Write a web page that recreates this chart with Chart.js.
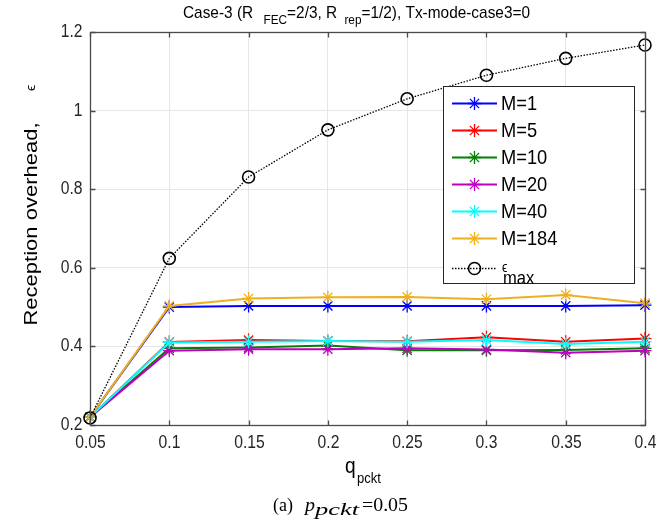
<!DOCTYPE html>
<html>
<head>
<meta charset="utf-8">
<script src="https://cdn.jsdelivr.net/npm/chart.js@4"></script>
<style>
  body { margin: 0; background: #fff; }
</style>
</head>
<body>
<canvas id="chart-overhead" width="657" height="531"></canvas>
<script>
// data
const qPckt = [0.05, 0.1, 0.15, 0.2, 0.25, 0.3, 0.35, 0.4];
const overheadM1   = [0.22, 0.500, 0.503, 0.503, 0.503, 0.503, 0.503, 0.505];
const overheadM5   = [0.22, 0.411, 0.416, 0.414, 0.413, 0.423, 0.412, 0.420];
const overheadM10  = [0.22, 0.395, 0.397, 0.402, 0.390, 0.390, 0.391, 0.395];
const overheadM20  = [0.22, 0.389, 0.393, 0.393, 0.395, 0.392, 0.384, 0.389];
const overheadM40  = [0.22, 0.410, 0.412, 0.414, 0.412, 0.416, 0.406, 0.412];
const overheadM184 = [0.22, 0.503, 0.522, 0.525, 0.526, 0.520, 0.531, 0.510];
const epsMax       = [0.218, 0.624, 0.831, 0.951, 1.030, 1.090, 1.133, 1.167];

const xTickLabels = ["0.05", "0.1", "0.15", "0.2", "0.25", "0.3", "0.35", "0.4"];
const yTickLabels = ["0.2", "0.4", "0.6", "0.8", "1", "1.2"];
const seriesLabels = ["M=1", "M=5", "M=10", "M=20", "M=40", "M=184"];
const seriesColors = ["#0000ff", "#ff0000", "#008000", "#bf00bf", "#00ffff", "#edb120"];
const seriesValues = [overheadM1, overheadM5, overheadM10, overheadM20, overheadM40, overheadM184];

const SQ = 0.87; // figure text looks horizontally squeezed
const SANS = '"Liberation Sans", Arial, sans-serif';
const SERIF = '"Liberation Serif", "Times New Roman", serif';

const toPoints = (vals) => vals.map((v, i) => ({ x: qPckt[i], y: v }));

function drawSq(ctx, text, x, y, font, align, s) {
    ctx.save();
    ctx.font = font;
    ctx.textAlign = align || 'left';
    ctx.translate(x, y);
    ctx.scale(s === undefined ? SQ : s, 1);
    ctx.fillText(text, 0, 0);
    ctx.restore();
}

function widthSq(ctx, text, font, s) {
    ctx.save();
    ctx.font = font;
    const w = ctx.measureText(text).width * (s === undefined ? SQ : s);
    ctx.restore();
    return w;
}

// draw text stretched to a given width (used for the LaTeX-like caption)
function drawFit(ctx, text, x, y, font, width) {
    drawSq(ctx, text, x, y, font, 'left', width / widthSq(ctx, text, font, 1));
}

function drawMarker(ctx, style, x, y, r, color, lw) {
    ctx.save();
    ctx.strokeStyle = color;
    ctx.lineWidth = lw;
    ctx.beginPath();
    if (style === 'circle') {
        ctx.arc(x, y, r, 0, Math.PI * 2);
    } else {
        for (let k = 0; k < 4; k++) {
            const a = k * Math.PI / 4;
            ctx.moveTo(x - Math.cos(a) * r, y - Math.sin(a) * r);
            ctx.lineTo(x + Math.cos(a) * r, y + Math.sin(a) * r);
        }
    }
    ctx.stroke();
    ctx.restore();
}

const datasets = seriesValues.map((vals, i) => ({
    label: seriesLabels[i],
    data: toPoints(vals),
    borderColor: seriesColors[i],
    backgroundColor: seriesColors[i],
    borderWidth: 2,
    pointStyle: 'star',
    pointRadius: 6.5,
    pointBorderWidth: 1.3,
    pointBorderColor: seriesColors[i],
    order: seriesValues.length - i,
    clip: false,
}));
datasets.push({
    label: "emax",
    data: toPoints(epsMax),
    borderColor: "#000000",
    backgroundColor: "rgba(0,0,0,0)",
    borderWidth: 1.3,
    borderDash: [1.5, 1.5],
    pointStyle: 'circle',
    pointRadius: 6,
    pointBorderWidth: 1.6,
    pointBorderColor: "#000000",
    pointBackgroundColor: "rgba(0,0,0,0)",
    order: 0,
    clip: false,
});

// box, inward ticks, tick labels, titles, legend
const overheadDecor = {
    id: 'overheadDecor',
    afterDraw(chart) {
        const { ctx, chartArea: a, scales: { x, y } } = chart;
        const L = Math.round(a.left) + 0.5, R = Math.round(a.right) + 0.5;
        const T = Math.round(a.top) + 0.5, B = Math.round(a.bottom) + 0.5;
        ctx.save();
        ctx.strokeStyle = '#4a4a4a';
        ctx.lineWidth = 1.3;
        ctx.strokeRect(L, T, R - L, B - T);

        ctx.fillStyle = '#262626';
        ctx.textBaseline = 'middle';
        const tickFont = '18px ' + SANS;
        ctx.beginPath();
        xTickLabels.forEach(lbl => {
            const px = Math.round(x.getPixelForValue(parseFloat(lbl))) + 0.5;
            ctx.moveTo(px, B); ctx.lineTo(px, B - 5);
            ctx.moveTo(px, T); ctx.lineTo(px, T + 5);
            drawSq(ctx, lbl, px, 443, tickFont, 'center');
        });
        yTickLabels.forEach(lbl => {
            const py = Math.round(y.getPixelForValue(parseFloat(lbl))) + 0.5;
            ctx.moveTo(L, py); ctx.lineTo(L + 5, py);
            ctx.moveTo(R, py); ctx.lineTo(R - 5, py);
            drawSq(ctx, lbl, L - 8, py, tickFont, 'right');
        });
        ctx.stroke();

        // title with subscripts
        ctx.fillStyle = '#000';
        ctx.textBaseline = 'alphabetic';
        const tMain = '17px ' + SANS, tSub = '13px ' + SANS;
        const parts = [
            ["Case-3 (R", tMain, 0, 10],
            ["FEC", tSub, 6, 0],
            ["=2/3, R", tMain, 0, 7],
            ["rep", tSub, 6, 0],
            ["=1/2), Tx-mode-case3=0", tMain, 0, 0],
        ];
        let total = 0;
        parts.forEach(p => { total += widthSq(ctx, p[0], p[1]) + p[3]; });
        const tScale = 347 / total;
        let tx = 183;
        parts.forEach(p => {
            drawSq(ctx, p[0], tx, 18 + p[2], p[1], 'left', SQ * tScale);
            tx += (widthSq(ctx, p[0], p[1]) + p[3]) * tScale;
        });

        // y axis title (rotated)
        ctx.save();
        ctx.translate(37, 224);
        ctx.rotate(-Math.PI / 2);
        ctx.scale(1, SQ);
        ctx.font = '22px ' + SANS;
        ctx.textAlign = 'center';
        ctx.fillText("Reception overhead,", 0, 0);
        ctx.restore();
        ctx.save();
        ctx.translate(35, 88);
        ctx.rotate(-Math.PI / 2);
        ctx.scale(1, SQ);
        ctx.font = '14px ' + SANS;
        ctx.textAlign = 'center';
        ctx.fillText("\u03f5", 0, 0);
        ctx.restore();

        // x axis title
        drawSq(ctx, "q", 345, 473, '22px ' + SANS, 'left');
        drawSq(ctx, "pckt", 357, 483, '15px ' + SANS, 'left');

        // caption
        ctx.fillStyle = '#000';
        drawFit(ctx, "(a)", 273, 511, '18px ' + SERIF, 20);
        drawFit(ctx, "p", 305, 511, 'italic 19px ' + SERIF, 10);
        drawFit(ctx, "pckt", 315, 515, 'italic 17px ' + SERIF, 44);
        drawFit(ctx, "=0.05", 362, 511, '18px ' + SERIF, 46);

        // legend
        const lx0 = 443.5, ly0 = 86.5, lx1 = 634.5, ly1 = 283.5;
        ctx.fillStyle = '#fff';
        ctx.fillRect(lx0, ly0, lx1 - lx0, ly1 - ly0);
        ctx.strokeStyle = '#262626';
        ctx.lineWidth = 1;
        ctx.strokeRect(lx0, ly0, lx1 - lx0, ly1 - ly0);
        chart.data.datasets.forEach((ds, i) => {
            const rowY = i < seriesLabels.length ? 103.5 + i * 27 : 268.5;
            ctx.save();
            ctx.strokeStyle = ds.borderColor;
            ctx.lineWidth = ds.borderWidth;
            ctx.setLineDash(ds.borderDash || []);
            ctx.beginPath();
            ctx.moveTo(452, rowY); ctx.lineTo(497, rowY);
            ctx.stroke();
            ctx.restore();
            drawMarker(ctx, ds.pointStyle, 474.5, rowY, ds.pointRadius, ds.pointBorderColor, ds.pointBorderWidth);
            ctx.fillStyle = '#000';
            if (i < seriesLabels.length) {
                ctx.textBaseline = 'middle';
                drawSq(ctx, ds.label, 501, rowY + 1, '21px ' + SANS, 'left');
            } else {
                ctx.textBaseline = 'alphabetic';
                drawSq(ctx, "\u03f5", 502, 272, '14px ' + SANS, 'left');
                drawSq(ctx, "max", 503, 284, '19px ' + SANS, 'left');
            }
        });
        ctx.restore();
    }
};

const configOverhead = {
    type: "line",
    data: { datasets: datasets },
    options: {
        responsive: false,
        animation: false,
        layout: { padding: { top: 32, right: 12, left: 0, bottom: 0 } },
        plugins: {
            legend: { display: false },
            tooltip: { enabled: false },
        },
        scales: {
            x: {
                type: "linear",
                min: 0.05,
                max: 0.4,
                ticks: { display: false, stepSize: 0.05 },
                grid: { color: "#e6e6e6", lineWidth: 1, drawTicks: false },
                border: { display: false },
                afterFit: (scale) => { scale.height = 106; },
            },
            y: {
                min: 0.2,
                max: 1.2,
                ticks: { display: false, stepSize: 0.2 },
                grid: { color: "#e6e6e6", lineWidth: 1, drawTicks: false },
                border: { display: false },
                afterFit: (scale) => { scale.width = 90; },
            },
        },
    },
    plugins: [overheadDecor],
};

new Chart(document.getElementById("chart-overhead"), configOverhead);
</script>
</body>
</html>
